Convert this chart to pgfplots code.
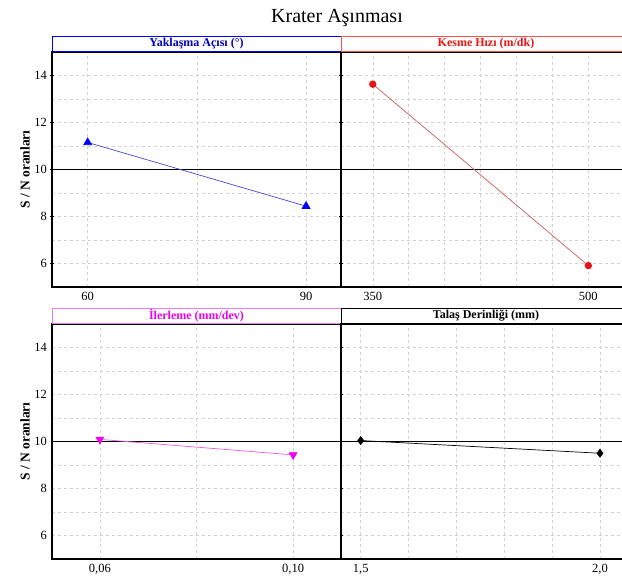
\documentclass[border=0pt]{standalone}
\usepackage{fontspec}
\setmainfont{Liberation Serif}
\usepackage{pgfplots}
\pgfplotsset{compat=1.18}
\definecolor{cblue}{RGB}{0,0,255}
\definecolor{cbluel}{RGB}{70,70,210}
\definecolor{cred}{RGB}{235,20,20}
\definecolor{credl}{RGB}{205,90,90}
\definecolor{cmag}{RGB}{240,0,240}
\definecolor{cmagl}{RGB}{230,90,230}
\definecolor{cmagb}{RGB}{240,120,240}
\definecolor{credb}{RGB}{250,80,80}
\begin{document}
\begin{tikzpicture}
\useasboundingbox (0pt,0pt) rectangle (622pt,578pt);
\pgfplotsset{
  every axis title/.style={at={(0.5,1)}, anchor=south, inner sep=0pt, minimum height=15pt,
      line width=0.9pt, font=\fontsize{12}{14}\selectfont\bfseries},
  panel/.style={
    scale only axis, anchor=south west,
    ymin=5, ymax=15,
    ytick={6,8,10,12,14}, minor ytick={7,9,11,13},
    grid=both,
    major grid style={dashed, gray!35, line width=0.5pt},
    minor grid style={dashed, gray!35, line width=0.5pt},
    axis line style={line width=1.2pt},
    tick style={black, line width=0.6pt},
    major tick length=3pt, minor tick length=2pt,
    xtick style={draw=none},
    tick align=center,
    tick label style={font=\fontsize{12.5}{14}\selectfont},
    /pgf/number format/assume math mode=true,
  },
  leftpanel/.style={panel, width=289pt, height=235pt,
    ylabel={\bfseries S / N oranları},
    ylabel style={at={(axis description cs:0,0.5)}, anchor=center, yshift=27pt, font=\fontsize{13.5}{15}\selectfont},
  },
  rightpanel/.style={panel, width=290pt, height=235pt, yticklabels={}},
}
% Top-left
\begin{axis}[leftpanel, at={(52pt,291pt)}, xmin=55.1, xmax=94.8,
  xtick={60,75,90}, xticklabels={60,,90},
  title={\textcolor{blue!75!black}{Yaklaşma Açısı (°)}},
  title style={draw=cblue, minimum width=289pt}]
\addplot[black, line width=1.1pt, forget plot] coordinates {(55.1,10) (94.8,10)};
\addplot[cbluel, line width=0.7pt, mark=triangle*, mark size=4.5pt, mark options={fill=cblue, draw=cblue, solid}] coordinates {(60,11.15) (90,8.44)};
\end{axis}
% Top-right
\begin{axis}[rightpanel, at={(341pt,291pt)}, xmin=327.9, xmax=529.7,
  xtick={350,375,...,500}, xticklabels={350,,,,,,500},
  title={\textcolor{cred}{Kesme Hızı (m/dk)}},
  title style={draw=credb, minimum width=290pt}]
\addplot[black, line width=1.1pt, forget plot] coordinates {(327.9,10) (529.7,10)};
\addplot[credl, line width=0.7pt, mark=*, mark size=3.3pt, mark options={fill=cred, draw=cred, solid}] coordinates {(350,13.63) (500,5.91)};
\end{axis}
% Bottom-left
\begin{axis}[leftpanel, at={(52pt,19pt)}, xmin=0.0501, xmax=0.1099,
  xtick={0.06,0.08,0.10}, xticklabels={0{,}06,,0{,}10},
  title={\textcolor{cmag}{İlerleme (mm/dev)}},
  title style={draw=cmagb, minimum width=289pt}]
\addplot[black, line width=1.1pt, forget plot] coordinates {(0.0501,10) (0.1099,10)};
\addplot[cmagl, line width=0.7pt, mark=triangle*, mark size=4.5pt, mark options={fill=cmag, draw=cmag, solid, rotate=180}] coordinates {(0.06,10.09) (0.10,9.43)};
\end{axis}
% Bottom-right
\begin{axis}[rightpanel, at={(341pt,19pt)}, xmin=1.4588, xmax=2.0648,
  xtick={1.5,1.6,...,2.0}, xticklabels={1{,}5,,,,,2{,}0},
  title={Talaş Derinliği (mm)},
  title style={draw=black, minimum width=290pt}]
\addplot[black, line width=1.1pt, forget plot] coordinates {(1.4588,10) (2.0648,10)};
\addplot[black, line width=0.7pt, mark=diamond*, mark size=4pt, mark options={fill=black, solid}] coordinates {(1.5,10.04) (2.0,9.50)};
\end{axis}
\node[font=\fontsize{20}{22}\selectfont] at (337pt,560pt) {Krater Aşınması};
\end{tikzpicture}
\end{document}
